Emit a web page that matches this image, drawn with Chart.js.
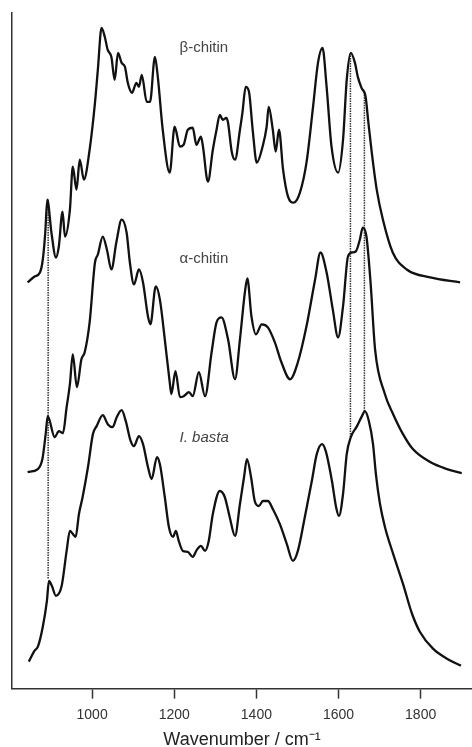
<!DOCTYPE html>
<html>
<head>
<meta charset="utf-8">
<script src="https://cdn.jsdelivr.net/npm/chart.js@4.4.1/dist/chart.umd.min.js"></script>
<style>
  body { margin: 0; background: #fff; }
</style>
</head>
<body>
<canvas id="spectraChart" width="472" height="747"></canvas>
<script>
// FTIR spectra, intensities in arbitrary units (offset traces)
const betaWn = [843, 860, 873, 880, 886, 891, 901, 912, 919, 928, 934, 946, 953, 962, 970, 980, 994, 1007, 1014, 1023, 1031, 1038, 1047, 1055, 1063, 1072, 1080, 1087, 1097, 1108, 1114, 1121, 1133, 1141, 1153, 1160, 1172, 1189, 1201, 1214, 1223, 1233, 1245, 1254, 1265, 1270, 1282, 1294, 1303, 1311, 1318, 1327, 1331, 1340, 1348, 1360, 1366, 1374, 1382, 1391, 1401, 1415, 1425, 1430, 1440, 1447, 1455, 1465, 1477, 1491, 1506, 1522, 1538, 1550, 1561, 1571, 1583, 1599, 1611, 1620, 1630, 1640, 1647, 1656, 1666, 1672, 1681, 1693, 1708, 1732, 1766, 1823, 1896];
const betaAbs = [407, 413, 417, 430, 457, 490, 457, 432, 443, 478, 453, 480, 523, 500, 530, 510, 540, 587, 620, 662, 653, 640, 633, 610, 637, 627, 623, 607, 597, 607, 603, 615, 588, 588, 633, 613, 560, 517, 563, 543, 545, 560, 562, 545, 553, 543, 508, 540, 560, 575, 570, 572, 567, 538, 530, 560, 577, 603, 598, 560, 527, 543, 563, 583, 560, 538, 560, 520, 493, 487, 497, 527, 583, 627, 642, 603, 543, 517, 550, 610, 637, 627, 613, 602, 593, 570, 537, 500, 470, 437, 420, 412, 407];

const alphaWn = [843, 868, 879, 887, 892, 909, 919, 929, 938, 946, 953, 963, 974, 982, 994, 1007, 1014, 1026, 1036, 1047, 1059, 1072, 1084, 1092, 1102, 1114, 1124, 1136, 1142, 1155, 1165, 1177, 1189, 1193, 1203, 1214, 1223, 1236, 1245, 1260, 1275, 1291, 1303, 1315, 1331, 1348, 1360, 1372, 1378, 1388, 1399, 1413, 1428, 1445, 1461, 1482, 1501, 1522, 1543, 1556, 1571, 1586, 1599, 1611, 1623, 1632, 1642, 1652, 1659, 1668, 1678, 1689, 1713, 1733, 1757, 1781, 1823, 1864, 1900];
const alphaAbs = [217, 220, 230, 255, 273, 252, 258, 256, 282, 305, 335, 302, 330, 337, 367, 427, 435, 453, 440, 420, 447, 470, 457, 427, 405, 420, 407, 373, 365, 403, 390, 350, 307, 295, 318, 292, 293, 297, 293, 317, 293, 337, 367, 372, 350, 310, 350, 397, 411, 373, 355, 365, 362, 347, 327, 310, 327, 363, 410, 437, 417, 380, 352, 383, 433, 437, 438, 450, 462, 453, 407, 340, 295, 275, 255, 240, 227, 220, 216];

const bastaWn = [846, 860, 868, 880, 890, 895, 902, 912, 926, 938, 946, 953, 960, 968, 977, 990, 1002, 1011, 1026, 1038, 1050, 1060, 1072, 1082, 1094, 1102, 1114, 1124, 1136, 1145, 1158, 1165, 1177, 1187, 1197, 1204, 1211, 1221, 1233, 1245, 1255, 1265, 1275, 1284, 1294, 1311, 1323, 1335, 1348, 1360, 1370, 1377, 1387, 1396, 1406, 1416, 1428, 1440, 1457, 1474, 1489, 1501, 1518, 1535, 1547, 1560, 1569, 1584, 1594, 1601, 1611, 1620, 1630, 1645, 1657, 1664, 1674, 1684, 1691, 1701, 1713, 1733, 1757, 1779, 1798, 1830, 1864, 1898];
const bastaAbs = [27, 38, 42, 62, 88, 108, 103, 93, 103, 138, 158, 155, 152, 175, 192, 222, 255, 263, 274, 265, 262, 272, 279, 268, 248, 243, 253, 245, 222, 210, 232, 225, 192, 162, 152, 158, 148, 138, 137, 132, 139, 143, 138, 148, 175, 198, 192, 172, 153, 185, 212, 230, 212, 188, 183, 188, 188, 180, 165, 145, 128, 138, 172, 208, 235, 245, 238, 208, 182, 173, 195, 235, 252, 263, 273, 278, 268, 245, 215, 185, 162, 135, 105, 75, 57, 40, 30, 23];

// dotted guide lines: band position, top (beta) and bottom (basta) intensity
const markerWn = [893, 1629, 1663];
const markerTop = [490, 637, 595];
const markerBottom = [110, 252, 277];

const tickValues = [1000, 1200, 1400, 1600, 1800];
const traceNames = ['β-chitin', 'α-chitin', 'I. basta'];

const FONT = '"Liberation Sans", Arial, Helvetica, sans-serif';

function toPoints(xs, ys) {
  return xs.map((x, i) => ({ x: x, y: ys[i] }));
}

function spectrum(label, xs, ys) {
  return {
    label: label,
    data: toPoints(xs, ys),
    borderColor: '#111',
    borderWidth: 2.3,
    pointRadius: 0,
    cubicInterpolationMode: 'monotone',
    fill: false,
    order: 1
  };
}

const datasets = [
  spectrum(traceNames[0], betaWn, betaAbs),
  spectrum(traceNames[1], alphaWn, alphaAbs),
  spectrum(traceNames[2], bastaWn, bastaAbs)
];
markerWn.forEach((wn, i) => {
  datasets.push({
    label: 'marker ' + wn,
    data: [{ x: wn, y: markerTop[i] }, { x: wn, y: markerBottom[i] }],
    borderColor: '#333',
    borderWidth: 1.5,
    borderDash: [1.5, 1],
    pointRadius: 0,
    tension: 0,
    order: 2
  });
});

// trace names written next to each spectrum
const labelAnchors = [
  { x: 1213, y: 642, italic: false },
  { x: 1213, y: 431, italic: false },
  { x: 1213, y: 251, italic: true }
];
const traceLabels = {
  id: 'traceLabels',
  afterDatasetsDraw(chart) {
    const { ctx, scales: { x, y } } = chart;
    ctx.save();
    ctx.fillStyle = '#444';
    ctx.textAlign = 'left';
    ctx.textBaseline = 'middle';
    traceNames.forEach((name, i) => {
      const a = labelAnchors[i];
      ctx.font = (a.italic ? 'italic ' : '') + '15px ' + FONT;
      ctx.fillText(name, x.getPixelForValue(a.x), y.getPixelForValue(a.y));
    });
    ctx.restore();
  }
};

new Chart(document.getElementById('spectraChart'), {
  type: 'line',
  data: { datasets: datasets },
  options: {
    responsive: false,
    animation: false,
    events: [],
    layout: { padding: { left: 12, top: 13, right: 0, bottom: 0 } },
    plugins: {
      legend: { display: false },
      tooltip: { enabled: false }
    },
    scales: {
      x: {
        type: 'linear',
        min: 805,
        max: 1925,
        afterBuildTicks: scale => { scale.ticks = tickValues.map(v => ({ value: v })); },
        ticks: {
          padding: 10,
          color: '#333',
          font: { family: FONT, size: 14, lineHeight: 1 },
          callback: v => String(v)
        },
        grid: {
          drawOnChartArea: false,
          drawTicks: true,
          tickLength: 10,
          tickColor: '#333',
          tickWidth: 1.5
        },
        border: { display: true, color: '#333', width: 1.5 },
        title: {
          display: true,
          text: 'Wavenumber / cm⁻¹',
          color: '#222',
          font: { family: FONT, size: 18, lineHeight: 0.8 },
          padding: { top: 0, bottom: 0 }
        }
      },
      y: {
        type: 'linear',
        min: 0,
        max: 677,
        ticks: { display: false },
        grid: { display: false, drawTicks: false },
        border: { display: true, color: '#333', width: 1.5 }
      }
    }
  },
  plugins: [traceLabels]
});
</script>
</body>
</html>
